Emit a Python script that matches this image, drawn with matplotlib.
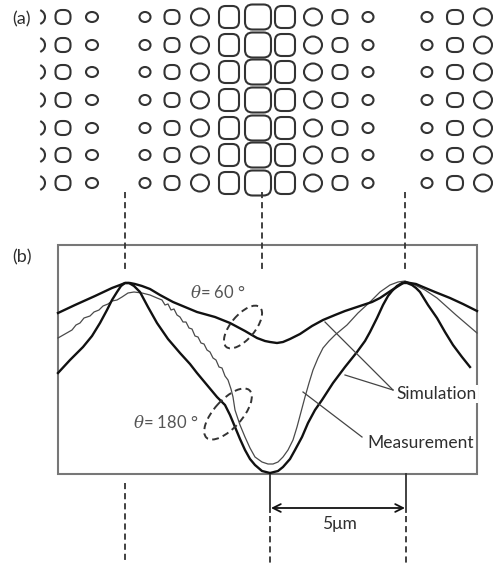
import matplotlib.pyplot as plt
from matplotlib.patches import FancyBboxPatch, Ellipse, Arc, Rectangle

# figure is drawn in pixel coordinates of the original picture (y goes down)

# (a) grid of holes
row_y = [17, 45, 72, 100, 128, 155, 183]
col_x = [63, 92, 145, 172, 200, 229, 258, 285, 313, 340, 368, 427, 455, 483]
col_w = [15, 12, 11, 15, 18, 20, 26, 20, 18, 15, 11, 11, 16, 18]
col_h = [14, 10, 10, 14, 17, 22, 25, 22, 17, 14, 10, 10, 14, 17]
round_frac = [0.45, 0.5, 0.5, 0.45, 0.5, 0.33, 0.3, 0.33, 0.5, 0.45, 0.5, 0.5, 0.45, 0.5]
cut_x = 37  # half hole at the left edge

# (b) profiles, x / y in pixels
sim60_x = [58, 75, 95, 112, 120, 125, 130, 135, 142, 150, 160, 173, 185, 197, 215, 230, 245, 257, 265, 270, 277, 283, 290, 300, 312, 323, 335, 345, 363, 372, 380, 392, 400, 405, 410, 416, 423, 435, 450, 463, 477]
sim60_y = [313, 305, 296, 288, 285, 283, 283, 284, 286, 289, 295, 302, 307, 312, 317, 323, 331, 338, 341, 342, 343, 342, 339, 334, 326, 320, 315, 311, 305, 302, 298, 290, 285, 282, 283, 284, 287, 292, 298, 304, 311]

sim180_x = [58, 70, 83, 92, 100, 107, 112, 117, 121, 125, 129, 134, 140, 148, 157, 168, 180, 190, 197, 207, 217, 225, 230, 235, 240, 245, 250, 255, 262, 270, 278, 283, 290, 295, 302, 308, 315, 322, 333, 345, 357, 365, 370, 377, 383, 388, 392, 397, 402, 407, 412, 416, 420, 428, 437, 445, 453, 462, 470]
sim180_y = [373, 360, 347, 336, 323, 310, 300, 292, 286, 283, 283, 286, 292, 307, 323, 339, 353, 364, 373, 385, 397, 405, 415, 427, 439, 450, 459, 465, 471, 473, 471, 467, 459, 450, 437, 423, 410, 400, 383, 367, 352, 341, 332, 318, 305, 296, 291, 286, 283, 283, 285, 288, 292, 305, 318, 332, 345, 357, 367]

meas_x = [58, 65, 72, 76, 80, 84, 90, 94, 99, 103, 108, 112, 117, 122, 128, 134, 142, 150, 157, 162, 165, 168, 171, 174, 177, 180, 183, 186, 189, 192, 195, 198, 201, 204, 207, 210, 213, 216, 219, 222, 225, 228, 231, 233, 235, 240, 245, 250, 255, 262, 268, 273, 278, 283, 288, 293, 297, 301, 305, 309, 313, 318, 323, 329, 335, 341, 347, 358, 370, 380, 390, 398, 405, 415, 425, 437, 456, 477]
meas_y = [338, 334, 330, 325, 323, 318, 316, 312, 310, 306, 304, 301, 300, 297, 293, 292, 293, 295, 298, 300, 305, 304, 310, 309, 315, 317, 322, 322, 328, 329, 336, 337, 343, 344, 350, 352, 358, 360, 367, 368, 376, 380, 389, 397, 410, 425, 437, 448, 457, 462, 464, 464, 462, 457, 450, 440, 427, 412, 397, 383, 370, 358, 348, 341, 335, 330, 325, 313, 302, 292, 285, 282, 281, 285, 290, 298, 315, 333]

peak_x = [125, 262, 405]
bottom_x = [125, 270, 406]
period_label = '5\u03bcm'
angle_labels = ['$\\theta$= 60 \u00b0', '$\\theta$= 180 \u00b0']

fig = plt.figure(figsize=(4.93, 5.63), dpi=100)
ax = fig.add_axes([0, 0, 1, 1])
ax.set_xlim(0, 493)
ax.set_ylim(563, 0)
ax.axis('off')

plt.rcParams['font.family'] = ['Lato', 'DejaVu Sans']
plt.rcParams['mathtext.fontset'] = 'dejavuserif'
ink = '#333333'
txt = '#2e2e2e'

# panel (a)
for y in row_y:
    for x, w, h, f in zip(col_x, col_w, col_h, round_frac):
        if f >= 0.5:
            ax.add_patch(Ellipse((x, y), w, h, fill=False, ec=ink, lw=1.5))
        else:
            ax.add_patch(FancyBboxPatch((x - w / 2, y - h / 2), w, h,
                                        boxstyle='round,pad=0,rounding_size=%g' % (f * min(w, h)),
                                        fill=False, ec=ink, lw=1.5))
    ax.add_patch(Arc((cut_x, y), 16, 15, theta1=-65, theta2=65, ec=ink, lw=1.5))
ax.text(12, 19, '(a)', fontsize=13, va='center', color=txt)

# panel (b)
ax.add_patch(Rectangle((58, 245), 477 - 58, 474 - 245, fill=False, ec='#777777', lw=1.5, zorder=1))
ax.text(12, 257, '(b)', fontsize=13, va='center', color=txt)

ax.plot(meas_x, meas_y, color='#4a4a4a', lw=0.9, zorder=3)
ax.plot(sim60_x, sim60_y, color='#111111', lw=1.7, zorder=3)
ax.plot(sim180_x, sim180_y, color='#111111', lw=1.7, zorder=3)

dash = dict(color=ink, lw=1.3, dashes=(3.4, 2.2))
for x in peak_x:
    ax.plot([x, x], [192, 270], **dash)
ax.plot([bottom_x[0]] * 2, [483, 563], **dash)
for x in bottom_x[1:]:
    ax.plot([x, x], [474, 512], color=ink, lw=1.3)
    ax.plot([x, x], [516, 563], **dash)
ax.annotate('', xy=(bottom_x[1] + 1, 508), xytext=(bottom_x[2] - 1, 508),
            arrowprops=dict(arrowstyle='<->', color='#111111', lw=1.3,
                            mutation_scale=14, shrinkA=0, shrinkB=0))
ax.text(339, 524, period_label, fontsize=12.5, ha='center', va='center', color=txt)

# angle marks
ax.add_patch(Ellipse((243, 327), 52, 24, angle=-50, fill=False, ec=ink, lw=1.4, ls=(0, (3.5, 2.2)), zorder=4))
ax.add_patch(Ellipse((228, 414), 64, 28, angle=-48, fill=False, ec=ink, lw=1.4, ls=(0, (3.5, 2.2)), zorder=4))
ax.text(190, 293, angle_labels[0], fontsize=12, va='center', color='#555555')
ax.text(133, 422, angle_labels[1], fontsize=12, va='center', color='#555555')

# callouts
lead = dict(color='#444444', lw=0.9, zorder=3)
ax.plot([325, 393], [322, 390], **lead)
ax.plot([345, 393], [375, 390], **lead)
ax.plot([303, 362], [392, 437], **lead)
ax.text(396, 394, 'Simulation', fontsize=12.5, va='center', color=txt, zorder=5,
        bbox=dict(fc='white', ec='none', pad=1))
ax.text(367, 443, 'Measurement', fontsize=12.5, va='center', color=txt, zorder=5)

fig.savefig('out.png', dpi=100)
